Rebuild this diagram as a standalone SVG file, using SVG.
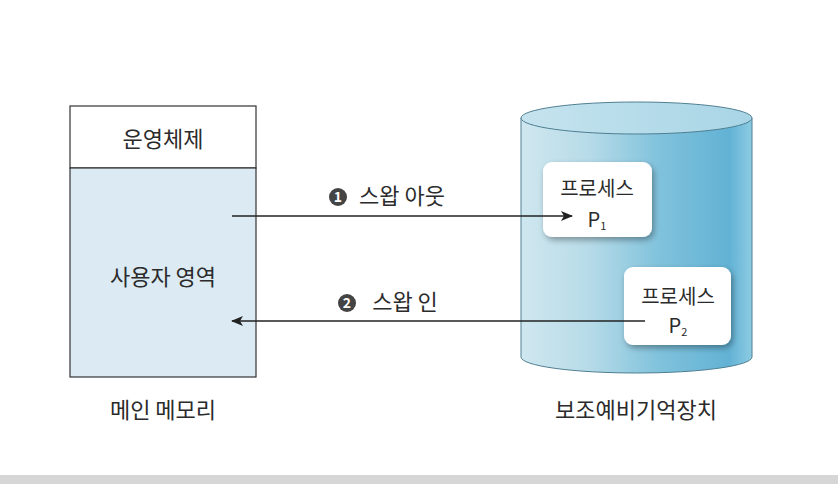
<svg xmlns="http://www.w3.org/2000/svg" width="838" height="484" viewBox="0 0 838 484">
<style>
text{font-family:"Noto Sans CJK KR","Noto Sans",sans-serif;font-size:22px;fill:#2b2b2b;text-anchor:middle}
.pt{font-size:20px}
.conn{stroke:#222;stroke-width:1.3;fill:none}
.pbox{fill:#fff;filter:url(#sh)}
</style>
<defs>
<linearGradient id="cyl" x1="0" x2="1" y1="0" y2="0">
<stop offset="0" stop-color="#cfe7ef"/>
<stop offset="0.3" stop-color="#b6dbe8"/>
<stop offset="0.6" stop-color="#80c2dc"/>
<stop offset="0.9" stop-color="#62b2d5"/>
<stop offset="1" stop-color="#8ccbe2"/>
</linearGradient>
<linearGradient id="top" x1="0" x2="1" y1="0" y2="0">
<stop offset="0" stop-color="#c5e3ee"/>
<stop offset="1" stop-color="#a8d5e6"/>
</linearGradient>
<filter id="sh" x="-20%" y="-20%" width="150%" height="150%">
<feGaussianBlur in="SourceAlpha" stdDeviation="3"/>
<feOffset dx="2" dy="3"/>
<feComponentTransfer><feFuncA type="linear" slope="0.35"/></feComponentTransfer>
<feMerge><feMergeNode/><feMergeNode in="SourceGraphic"/></feMerge>
</filter>
<marker id="ah" viewBox="0 0 12 10" refX="11" refY="5" markerWidth="12" markerHeight="10" markerUnits="userSpaceOnUse" orient="auto">
<path d="M0,0 L12,5 L0,10 L3,5 Z" fill="#222"/>
</marker>
</defs>
<rect x="0" y="475" width="838" height="9" fill="#d6d6d6"/>
<g id="main-memory">
<rect x="70" y="106" width="186" height="62" fill="#fff" stroke="#333" stroke-width="1.2"/>
<rect x="70" y="168" width="186" height="209" fill="#dbeaf3" stroke="#333" stroke-width="1.2"/>
<text x="163" y="147">운영체제</text>
<text x="163" y="285">사용자 영역</text>
<text x="163" y="418">메인 메모리</text>
</g>
<g id="storage">
<path d="M521,118 L521,357 A115.5,16 0 0 0 752,357 L752,118 Z" fill="url(#cyl)" stroke="#4f7f92" stroke-width="1"/>
<ellipse cx="636.5" cy="118" rx="115.5" ry="16" fill="url(#top)" stroke="#4f7f92" stroke-width="1"/>
<text x="636" y="418">보조예비기억장치</text>
</g>
<g id="process1">
<rect class="pbox" x="543" y="162" width="109" height="75" rx="9"/>
<text class="pt" x="597" y="196">프로세스</text>
<text class="pt" x="597" y="227">P<tspan font-size="11" dy="3">1</tspan></text>
</g>
<g id="process2">
<rect class="pbox" x="624" y="267" width="107" height="78" rx="9"/>
<text class="pt" x="678" y="304">프로세스</text>
<text class="pt" x="678" y="333">P<tspan font-size="11" dy="3">2</tspan></text>
</g>
<g id="connectors">
<line class="conn" x1="232" y1="216" x2="572" y2="216" marker-end="url(#ah)"/>
<line class="conn" x1="645" y1="321" x2="232" y2="321" marker-end="url(#ah)"/>
<circle cx="338" cy="197" r="9" fill="#444"/>
<text x="338" y="202" style="font-size:14px;font-weight:bold;fill:#fff">1</text>
<text x="402" y="204">스왑 아웃</text>
<circle cx="347" cy="303" r="9" fill="#444"/>
<text x="347" y="308" style="font-size:14px;font-weight:bold;fill:#fff">2</text>
<text x="405" y="310">스왑 인</text>
</g>
</svg>
